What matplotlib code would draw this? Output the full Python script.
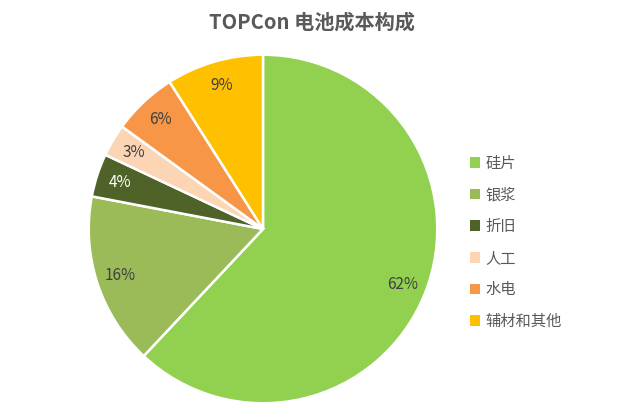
import matplotlib
matplotlib.use('Agg')
import matplotlib.pyplot as plt
from matplotlib.patches import Patch

plt.rcParams['font.family'] = ['Noto Sans CJK SC', 'DejaVu Sans']

categories = ['硅片', '银浆', '折旧', '人工', '水电', '辅材和其他']
shares = [62, 16, 4, 3, 6, 9]
colors = ['#92D050', '#9BBB59', '#4F6228', '#FCD5B4', '#F79646', '#FFC000']
label_colors = ['#404040', '#404040', 'white', '#404040', '#404040', '#404040']
title = 'TOPCon 电池成本构成'

W, H = 624, 419
fig = plt.figure(figsize=(W / 100, H / 100), dpi=100)

# pie centre and radius in pixels (from top-left)
cx, cy, r = 263, 229, 176
ax = fig.add_axes([(cx - r) / W, (H - cy - r) / H, 2 * r / W, 2 * r / H])

wedges, texts, autotexts = ax.pie(
    shares, colors=colors, startangle=90, counterclock=False,
    autopct='%d%%', pctdistance=0.86, radius=1,
    wedgeprops=dict(edgecolor='white', linewidth=1.8),
    textprops=dict(fontsize=11))
for t, c in zip(autotexts, label_colors):
    t.set_color(c)
ax.set_xlim(-1.01, 1.01)
ax.set_ylim(-1.01, 1.01)

fig.text(0.5, 1 - 22 / H, title, ha='center', va='center',
         fontsize=14.5, fontweight='bold', color='#595959')

handles = [Patch(facecolor=c, edgecolor='none') for c in colors]
fig.legend(handles, categories, loc='upper left',
           bbox_to_anchor=(456 / W, 1 - 141 / H), frameon=False,
           fontsize=11, labelcolor='#595959', handlelength=0.7,
           handleheight=0.7, handletextpad=0.35, labelspacing=0.96)

fig.savefig('out.png', dpi=100, facecolor='white')
